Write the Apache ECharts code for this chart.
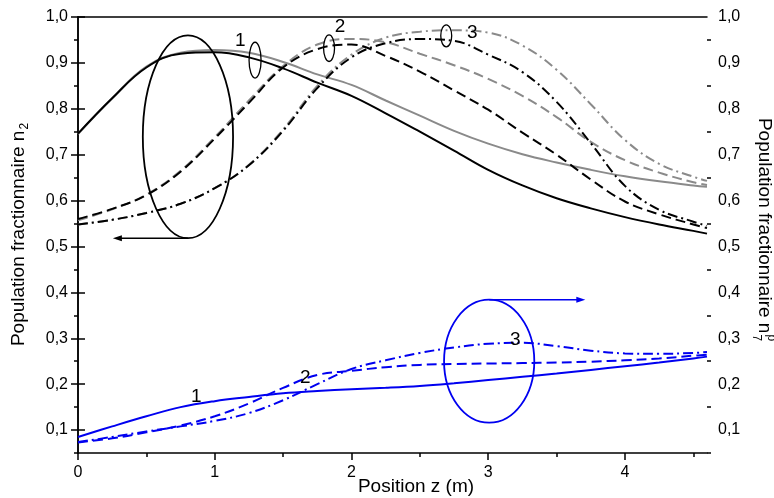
<!DOCTYPE html>
<html><head><meta charset="utf-8">
<script src="https://cdn.jsdelivr.net/npm/echarts@6/dist/echarts.min.js"></script>
<style>html,body{margin:0;padding:0;background:#fff}#c{width:774px;height:498px}</style>
</head><body><div id="c"></div>
<script>
// positions along z (m)
const zPos = [0,0.25,0.5,0.75,1.0,1.25,1.5,1.75,2.0,2.25,2.5,2.75,3.0,3.25,3.5,3.75,4.0,4.25,4.5,4.6];
// n2 (black, left axis)
const n2Curve1 = [0.746,0.823,0.890,0.920,0.923,0.912,0.888,0.857,0.828,0.790,0.750,0.709,0.667,0.633,0.605,0.583,0.564,0.548,0.534,0.528];
const n2Curve2 = [0.560,0.582,0.612,0.663,0.735,0.813,0.890,0.930,0.940,0.915,0.881,0.840,0.798,0.748,0.700,0.646,0.598,0.570,0.548,0.540];
const n2Curve3 = [0.548,0.558,0.573,0.593,0.627,0.677,0.752,0.845,0.912,0.943,0.952,0.948,0.918,0.880,0.815,0.725,0.632,0.580,0.554,0.545];
// n7p (grey, right axis)
const n7Curve1 = [0.745,0.823,0.892,0.922,0.928,0.922,0.902,0.875,0.852,0.818,0.785,0.752,0.724,0.701,0.683,0.667,0.653,0.642,0.633,0.630];
const n7Curve2 = [0.557,0.581,0.613,0.665,0.738,0.818,0.893,0.940,0.952,0.945,0.920,0.895,0.865,0.828,0.782,0.728,0.688,0.661,0.640,0.634];
const n7Curve3 = [0.548,0.558,0.573,0.593,0.627,0.678,0.755,0.850,0.918,0.955,0.968,0.971,0.966,0.938,0.885,0.810,0.732,0.680,0.652,0.643];
// lower group (blue, right axis)
const lowCurve1 = [0.085,0.108,0.130,0.150,0.163,0.172,0.180,0.185,0.189,0.192,0.196,0.202,0.209,0.216,0.223,0.231,0.239,0.247,0.256,0.260];
const lowCurve2 = [0.073,0.082,0.095,0.110,0.130,0.158,0.192,0.220,0.229,0.237,0.242,0.244,0.245,0.246,0.247,0.249,0.252,0.256,0.262,0.264];
const lowCurve3 = [0.074,0.085,0.097,0.108,0.120,0.137,0.165,0.200,0.233,0.252,0.268,0.280,0.288,0.290,0.283,0.273,0.267,0.266,0.268,0.270];
// ticks
const xMajorTicks = [0,1,2,3,4];
const xMinorTicks = [0.5,1.5,2.5,3.5,4.5];
const yMajorTicks = [0.1,0.2,0.3,0.4,0.5,0.6,0.7,0.8,0.9,1.0];
const yMinorTicks = [0.05,0.15,0.25,0.35,0.45,0.55,0.65,0.75,0.85,0.95];

const FONT = '"Liberation Sans", Arial, sans-serif';
const AX = {color:'#000', width:1.5};
const pair = arr => zPos.map((z,i)=>[z, arr[i]]);
const yFmt = v => v.toFixed(1).replace('.', ',');

const chart = echarts.init(document.getElementById('c'), null, {renderer:'canvas'});

function yAxisMajor(pos){
  return {type:'value', position:pos, min:0.05, max:1.0,
    axisLine:{show:true, lineStyle:AX},
    axisTick:{show:true, length:7, lineStyle:AX, customValues:yMajorTicks},
    axisLabel:{show:true, customValues:yMajorTicks, formatter:yFmt, color:'#000', fontSize:16, fontFamily:FONT, margin:pos==='left'?10:11},
    splitLine:{show:false}};
}
function yAxisMinor(pos){
  return {type:'value', position:pos, min:0.05, max:1.0,
    axisLine:{show:false},
    axisTick:{show:true, length:4, lineStyle:AX, customValues:yMinorTicks},
    axisLabel:{show:false}, splitLine:{show:false}};
}
function line(data, color, type, yIdx){
  return {type:'line', data:pair(data), xAxisIndex:0, yAxisIndex:yIdx, smooth:0.4, showSymbol:false, symbol:'none',
    lineStyle:{color:color, width:2, type:type}, z:2, silent:true};
}
const DASH = [10,5];
const DASHDOT = [10,4,2,4];

chart.setOption({
  animation:false,
  backgroundColor:'#fff',
  grid:{left:78, right:67, top:17, bottom:45, containLabel:false},
  xAxis:[
    {type:'value', position:'bottom', min:0, max:4.6,
      axisLine:{show:true, lineStyle:AX},
      axisTick:{show:true, length:7, lineStyle:AX, customValues:xMajorTicks},
      axisLabel:{show:true, customValues:xMajorTicks, color:'#000', fontSize:16, fontFamily:FONT, margin:12, formatter:v=>String(v)},
      splitLine:{show:false}},
    {type:'value', position:'bottom', min:0, max:4.6,
      axisLine:{show:false},
      axisTick:{show:true, length:4, lineStyle:AX, customValues:xMinorTicks},
      axisLabel:{show:false}, splitLine:{show:false}},
    {type:'value', position:'top', min:0, max:4.6,
      axisLine:{show:true, lineStyle:AX}, axisTick:{show:false}, axisLabel:{show:false}, splitLine:{show:false}}
  ],
  yAxis:[yAxisMajor('left'), yAxisMinor('left'), yAxisMajor('right'), yAxisMinor('right')],
  series:[
    line(n7Curve1, '#8a8a8a', 'solid', 2),
    line(n7Curve2, '#8a8a8a', DASH, 2),
    line(n7Curve3, '#8a8a8a', DASHDOT, 2),
    line(n2Curve1, '#000000', 'solid', 0),
    line(n2Curve2, '#000000', DASH, 0),
    line(n2Curve3, '#000000', DASHDOT, 0),
    line(lowCurve1, '#0000f0', 'solid', 2),
    line(lowCurve2, '#0000f0', DASH, 2),
    line(lowCurve3, '#0000f0', DASHDOT, 2)
  ]
});

// annotations (placed in data units, converted through the axes)
const P = (z,v) => chart.convertToPixel({xAxisIndex:0, yAxisIndex:0}, [z,v]);
function ellipse(zc, vc, dz, dv, color, lw){
  const c = P(zc,vc), e = P(zc+dz, vc+dv);
  return {type:'ellipse', shape:{cx:c[0], cy:c[1], rx:Math.abs(e[0]-c[0]), ry:Math.abs(c[1]-e[1])},
    style:{fill:'none', stroke:color, lineWidth:lw}, z:10, silent:true};
}
function arrow(z0, z1, v, color){
  const a = P(z0,v), b = P(z1,v);
  const dir = Math.sign(b[0]-a[0]);
  return [
    {type:'line', shape:{x1:a[0], y1:a[1], x2:b[0]-dir*6, y2:b[1]}, style:{stroke:color, lineWidth:1.6}, z:10, silent:true},
    {type:'polygon', shape:{points:[[b[0],b[1]],[b[0]-dir*9,b[1]-3],[b[0]-dir*9,b[1]+3]]}, style:{fill:color}, z:10, silent:true}
  ];
}
function label(t, z, v){
  const p = P(z,v);
  return {type:'text', x:p[0], y:p[1], style:{text:t, fill:'#000', font:'19px '+FONT, align:'center', verticalAlign:'middle'}, z:11, silent:true};
}
const g = [];
g.push(ellipse(0.804, 0.739, 0.33, 0.221, '#000', 1.8));
g.push(...arrow(0.804, 0.255, 0.518, '#000'));
g.push(ellipse(1.295, 0.906, 0.044, 0.039, '#000', 1.3));
g.push(ellipse(1.836, 0.932, 0.040, 0.029, '#000', 1.3));
g.push(ellipse(2.693, 0.959, 0.040, 0.024, '#000', 1.3));
g.push(label('1', 1.186, 0.949), label('2', 1.917, 0.978), label('3', 2.883, 0.965));
g.push(ellipse(3.007, 0.250, 0.33, 0.134, '#0000f0', 1.8));
g.push(...arrow(3.007, 3.71, 0.384, '#0000f0'));
g.push(label('1', 0.865, 0.173), label('2', 1.662, 0.213), label('3', 3.198, 0.297));

// axis titles
const TF = 19, SF = 12;
const ctx = document.createElement('canvas').getContext('2d');
function tw(t, size){ ctx.font = size+'px '+FONT; return ctx.measureText(t).width; }
g.push({type:'text', x:416, y:487, style:{text:'Position z (m)', fill:'#000', font:TF+'px '+FONT, align:'center', verticalAlign:'middle'}, silent:true});
(function(){
  const main = 'Population fractionnaire n';
  const wm = tw(main, TF), ws = tw('2', SF), W = wm + ws;
  g.push({type:'group', x:19, y:235, rotation:Math.PI/2, silent:true, children:[
    {type:'text', x:-W/2, y:0, style:{text:main, fill:'#000', font:TF+'px '+FONT, align:'left', verticalAlign:'middle'}},
    {type:'text', x:-W/2+wm+1, y:6, style:{text:'2', fill:'#000', font:SF+'px '+FONT, align:'left', verticalAlign:'middle'}}
  ]});
})();
(function(){
  const main = 'Population fractionnaire n';
  const wm = tw(main, TF), ws = tw('p', SF), W = wm + ws;
  g.push({type:'group', x:764, y:229, rotation:-Math.PI/2, silent:true, children:[
    {type:'text', x:-W/2, y:0, style:{text:main, fill:'#000', font:TF+'px '+FONT, align:'left', verticalAlign:'middle'}},
    {type:'text', x:-W/2+wm+1, y:-7, style:{text:'p', fill:'#000', font:SF+'px '+FONT, align:'left', verticalAlign:'middle'}},
    {type:'text', x:-W/2+wm+1, y:8, style:{text:'7', fill:'#000', font:SF+'px '+FONT, align:'left', verticalAlign:'middle'}}
  ]});
})();

chart.setOption({graphic:{elements:g}});
</script></body></html>
